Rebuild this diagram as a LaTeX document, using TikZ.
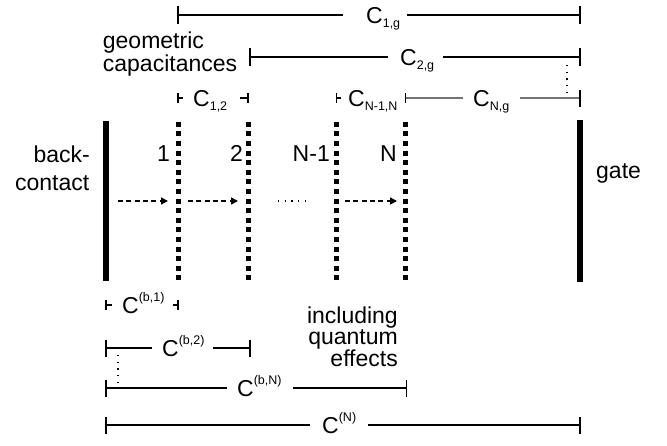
\documentclass[tikz,border=0pt]{standalone}
\usepackage{fontspec}
\setmainfont{Liberation Sans}
\usetikzlibrary{arrows.meta,calc}
\newcommand\lsb[1]{\raisebox{-4pt}{\fontsize{12.5}{12.5}\selectfont #1}}
\newcommand\lsp[1]{\raisebox{12pt}{\fontsize{12.5}{12.5}\selectfont #1}}
% #1 name, #2 xL, #3 xR, #4 y, #5 tick half, #6 gap start, #7 gap end, #8 label left x, #9 label
\newcommand\dimln[9]{%
  \coordinate (#1L) at (#2,#4); \coordinate (#1R) at (#3,#4);
  \draw[dim] (#1L) ++(0,-#5) -- ++(0,2*#5);
  \draw[dim] (#1R) ++(0,-#5) -- ++(0,2*#5);
  \draw[dim] (#1L) -- (#6,#4);
  \draw[dim] (#7,#4) -- (#1R);
  \node[txt, anchor=base west] (#1) at (#8,#4+8.3) {#9};
}
\begin{document}
\begin{tikzpicture}[x=1pt,y=-1pt,
  txt/.style={font=\fontsize{23}{24}\selectfont, inner sep=0pt},
  plate/.style={line width=6pt},
  qplate/.style={line width=5pt, dash pattern=on 5pt off 4.6pt},
  dim/.style={line width=1.1pt},
  flow/.style={line width=1.5pt, dash pattern=on 5pt off 3.3pt, -{Triangle[length=7pt,width=7pt]}},
  dots/.style={line width=1.3pt, dash pattern=on 1.3pt off 5.4pt}]
\fill[white] (0,0) rectangle (667,445);
\useasboundingbox (0,0) rectangle (667,445);

% plates
\coordinate (bcT) at (106,121);   \coordinate (bcB) at (106,281);
\coordinate (gT)  at (580,120);   \coordinate (gB)  at (580,282);
\coordinate (p1T) at (178,121.7); \coordinate (p1B) at (178,281);
\coordinate (p2T) at (248,121.7); \coordinate (p2B) at (248,281);
\coordinate (pn1T) at (336.5,121.7); \coordinate (pn1B) at (336.5,281);
\coordinate (pnT) at (405.5,121.7); \coordinate (pnB) at (405.5,281);
\draw[plate] (bcT) -- (bcB);
\draw[plate] (gT) -- (gB);
\draw[qplate] (p1T) -- (p1B);
\draw[qplate] (p2T) -- (p2B);
\draw[qplate] (pn1T) -- (pn1B);
\draw[qplate] (pnT) -- (pnB);

% plate labels
\node[txt, anchor=base east] (bk1) at (90,162) {back-};
\node[txt, anchor=base east] (bk2) at (89.5,190) {contact};
\node[txt, anchor=base west] (gate) at (596,178.7) {gate};
\node[txt, anchor=base east] (n1) at (170,161) {1};
\node[txt, anchor=base east] (n2) at (243,161) {2};
\node[txt, anchor=base east] (nn1) at (330,161) {N-1};
\node[txt, anchor=base east] (nn) at (397,161) {N};

% flow arrows
\coordinate (bcM) at (106,201);  \coordinate (p1M) at (178,201);
\coordinate (p2M) at (248,201);  \coordinate (pn1M) at (336.5,201);
\coordinate (pnM) at (405.5,201);
\draw[flow] ($(bcM)+(12,0)$) -- ($(p1M)+(-10,0)$);
\draw[flow] ($(p1M)+(10,0)$) -- ($(p2M)+(-10,0)$);
\draw[dots] ($(p2M)+(30,0)$) -- ($(pn1M)+(-29,0)$);
\draw[flow] ($(pn1M)+(8.5,0)$) -- ($(pnM)+(-8.5,0)$);

% geometric capacitances
\node[txt, anchor=base west] (geo1) at (102.7,48.3) {geometric};
\node[txt, anchor=base west] (geo2) at (102.7,71.7) {capacitances};
\dimln{c1g}{178}{580}{15}{9}{343}{407}{366}{C\lsb{1,g}}
\dimln{c2g}{250}{580}{57}{9}{388}{443}{400}{C\lsb{2,g}}
\dimln{c12}{178}{248}{98}{5}{183}{240}{193}{C\lsb{1,2}}
\dimln{cnn}{336.5}{405.5}{98}{5}{341}{405.5}{348}{C\lsb{N-1,N}}
\coordinate (cngL) at (405.5,98); \coordinate (cngR) at (580,98);
\draw[dim, black!55] (cngL) -- (463,98);
\draw[dim, black!55] (520,98) -- (cngR);
\draw[dim] (cngR) ++(0,-8.5) -- ++(0,17);
\node[txt, anchor=base west] (cng) at (473,106.3) {C\lsb{N,g}};
\coordinate (vd1T) at (567,65); \coordinate (vd1B) at (567,93);
\draw[dots] (vd1T) -- (vd1B);

% quantum capacitances
\dimln{cb1}{106}{178}{305}{5}{112}{173}{122}{C\lsp{(b,1)}}
\dimln{cb2}{106}{250}{348}{8.5}{152}{213}{162}{C\lsp{(b,2)}}
\coordinate (vd2T) at (118,355); \coordinate (vd2B) at (118,383);
\draw[dots] (vd2T) -- (vd2B);
\dimln{cbn}{106}{406.5}{388}{8.5}{227}{293}{237}{C\lsp{(b,N)}}
\dimln{cN}{106}{580}{425}{8.5}{310}{368}{322}{C\lsp{(N)}}
\node[txt, anchor=base east] (q1) at (398,323.3) {including};
\node[txt, anchor=base east] (q2) at (398,344) {quantum};
\node[txt, anchor=base east] (q3) at (398,366) {effects};
\end{tikzpicture}
\end{document}
